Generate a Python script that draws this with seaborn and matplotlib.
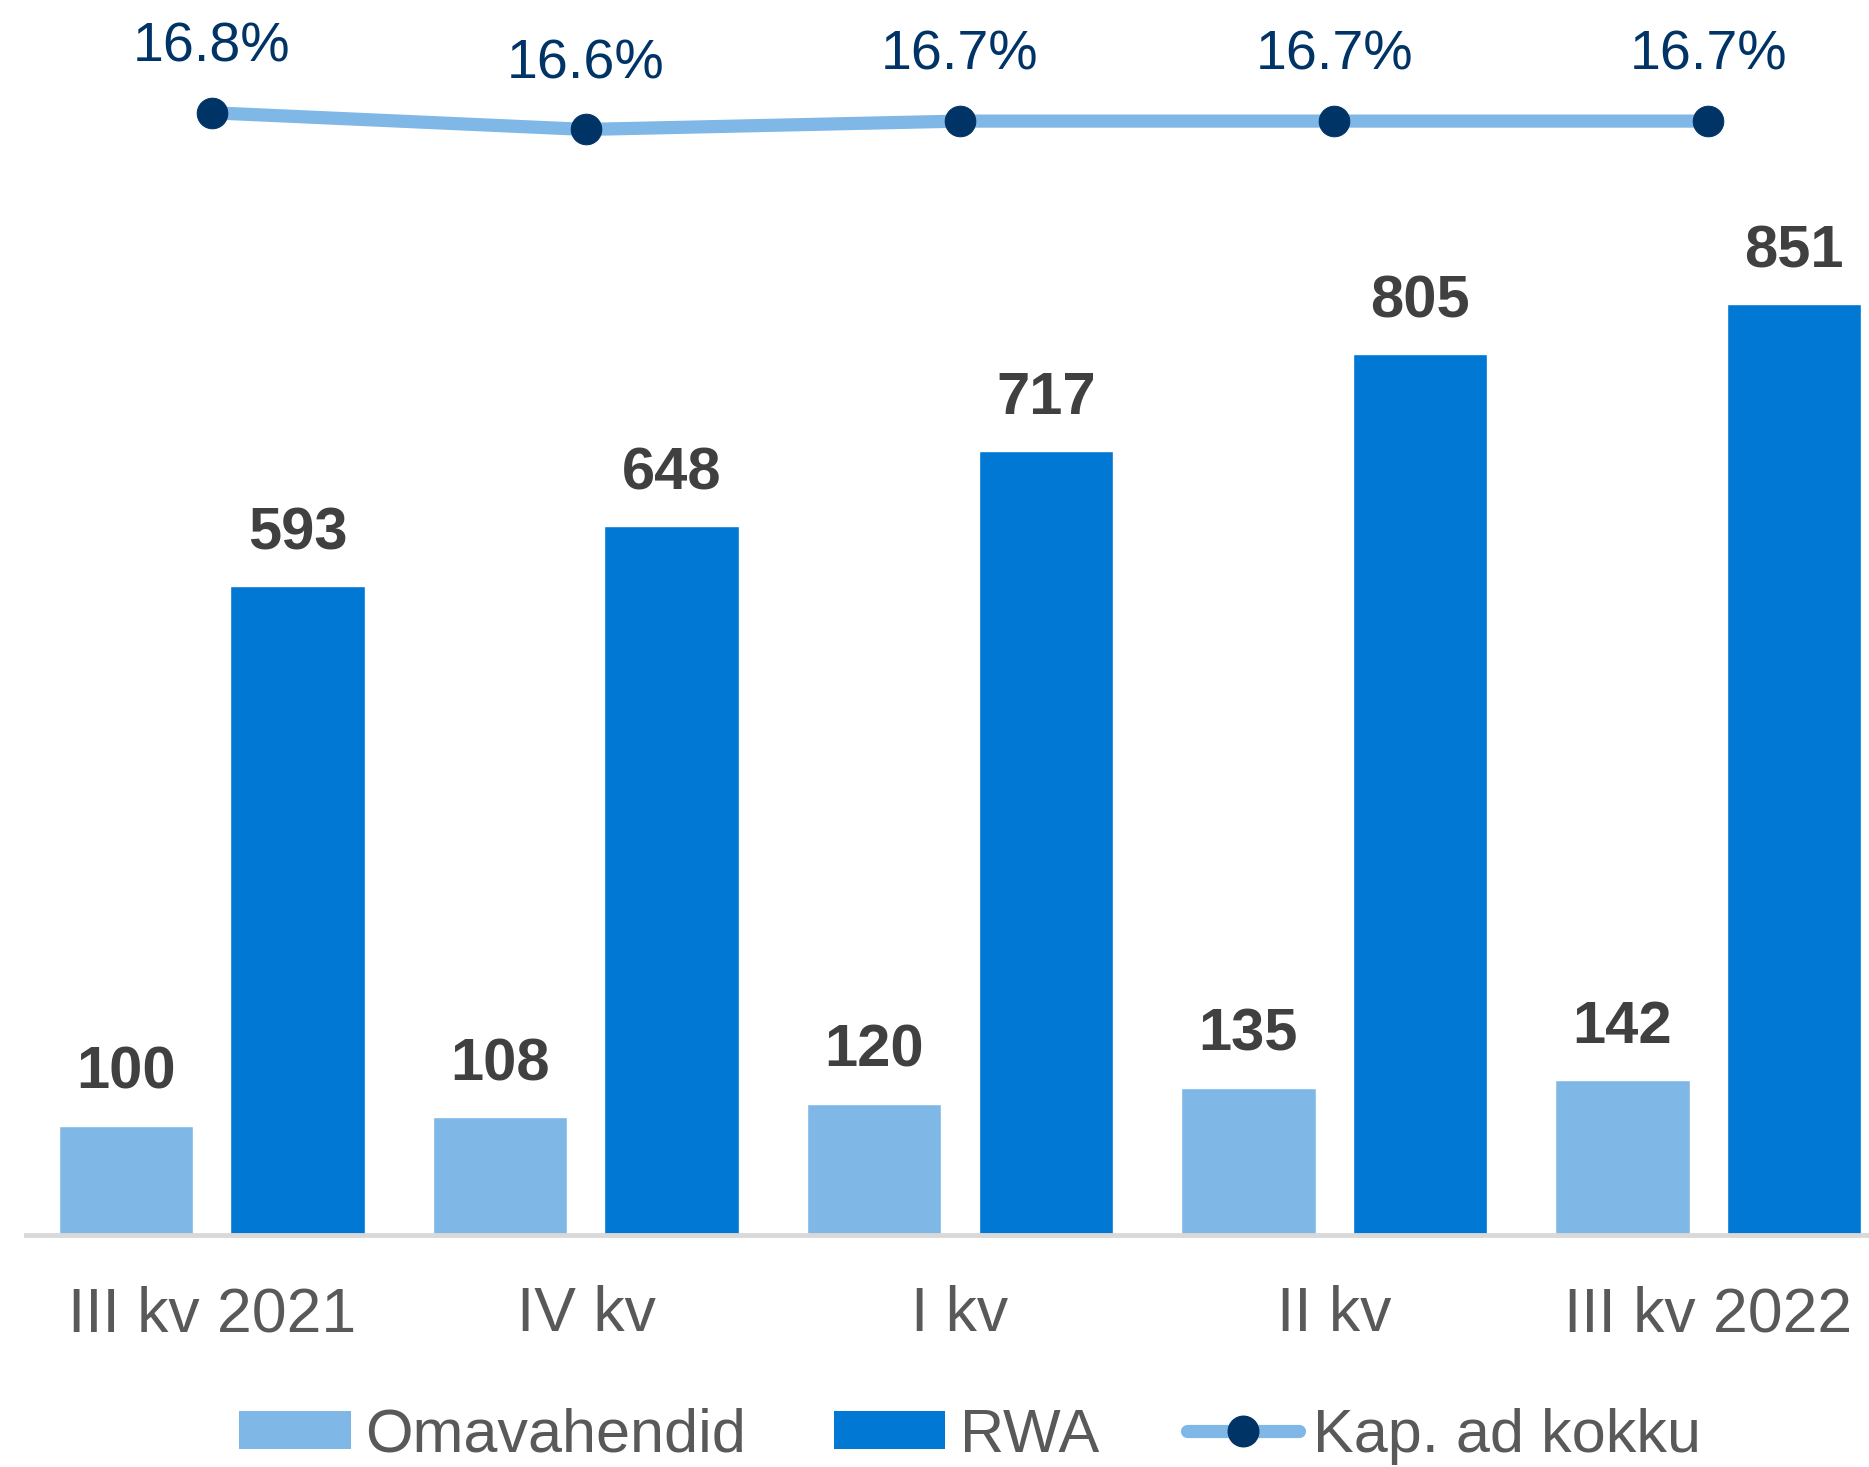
"""Omavahendid / RWA bars with capital adequacy line on top"""

import matplotlib

matplotlib.use("Agg")
import matplotlib.pyplot as plt
import numpy as np
import pandas as pd
import seaborn as sns
from matplotlib.lines import Line2D
from matplotlib.patches import Patch

quarters = ["III kv 2021", "IV kv", "I kv", "II kv", "III kv 2022"]
own_funds = [100, 108, 120, 135, 142]
rwa = [593, 648, 717, 805, 851]
cap_ratio = [16.8, 16.6, 16.7, 16.7, 16.7]
series_names = ["Omavahendid", "RWA", "Kap. ad kokku"]

LIGHT = "#7FB7E6"
DARK = "#0078D4"
NAVY = "#003366"
GREY_TXT = "#595959"
LABEL_TXT = "#404040"

sns.set_style("white")
plt.rcParams["font.family"] = ["Liberation Sans", "DejaVu Sans"]

df = pd.DataFrame(
    {
        "quarter": quarters * 2,
        "value": own_funds + rwa,
        "series": [series_names[0]] * len(quarters) + [series_names[1]] * len(quarters),
    }
)

fig = plt.figure(figsize=(18.69, 14.67), dpi=100)
ax = fig.add_axes([0.0139, 0.158, 0.9861, 0.842])

sns.barplot(
    data=df,
    x="quarter",
    y="value",
    hue="series",
    palette=[LIGHT, DARK],
    width=0.918,
    gap=0.216,
    saturation=1,
    legend=False,
    ax=ax,
)

for cont in ax.containers:
    ax.bar_label(
        cont,
        fmt="%d",
        padding=18,
        fontsize=43,
        fontweight="bold",
        color=LABEL_TXT,
    )

ax.set_xlim(-0.497, 4.43)
ax.set_ylim(0, 1129)
ax.set_xlabel("")
ax.set_ylabel("")
ax.set_yticks([])
ax.tick_params(axis="x", length=0, pad=36, labelsize=45, labelcolor=GREY_TXT)
for side in ["top", "right", "left"]:
    ax.spines[side].set_visible(False)
ax.spines["bottom"].set_color("#D9D9D9")
ax.spines["bottom"].set_linewidth(3.5)

# capital ratio line on its own scale
ax2 = ax.twinx()
pos = np.arange(len(quarters))
sns.lineplot(
    x=pos,
    y=cap_ratio,
    color=LIGHT,
    linewidth=9.5,
    marker="o",
    markersize=22,
    markerfacecolor=NAVY,
    markeredgecolor=NAVY,
    ax=ax2,
)
for xi, yi in zip(pos, cap_ratio):
    ax2.annotate(
        f"{yi:.1f}%",
        (xi, yi),
        xytext=(0, 37),
        textcoords="offset points",
        ha="center",
        va="baseline",
        fontsize=40,
        color=NAVY,
    )
ax2.set_ylim(3.36, 18.15)
ax2.set_yticks([])
ax2.set_ylabel("")
for side in ["top", "right", "left", "bottom"]:
    ax2.spines[side].set_visible(False)

handles = [
    Patch(facecolor=LIGHT, edgecolor="none"),
    Patch(facecolor=DARK, edgecolor="none"),
    Line2D([], [], color=LIGHT, linewidth=9.5, marker="o", markersize=22,
           markerfacecolor=NAVY, markeredgecolor=NAVY, solid_capstyle="round"),
]
fig.legend(
    handles,
    series_names,
    loc="center",
    bbox_to_anchor=(0.519, 0.021),
    ncol=3,
    frameon=False,
    fontsize=44,
    labelcolor=GREY_TXT,
    handlelength=1.83,
    handleheight=0.58,
    handletextpad=0.24,
    columnspacing=1.43,
    borderpad=0,
)

fig.savefig("out.png", dpi=100)
